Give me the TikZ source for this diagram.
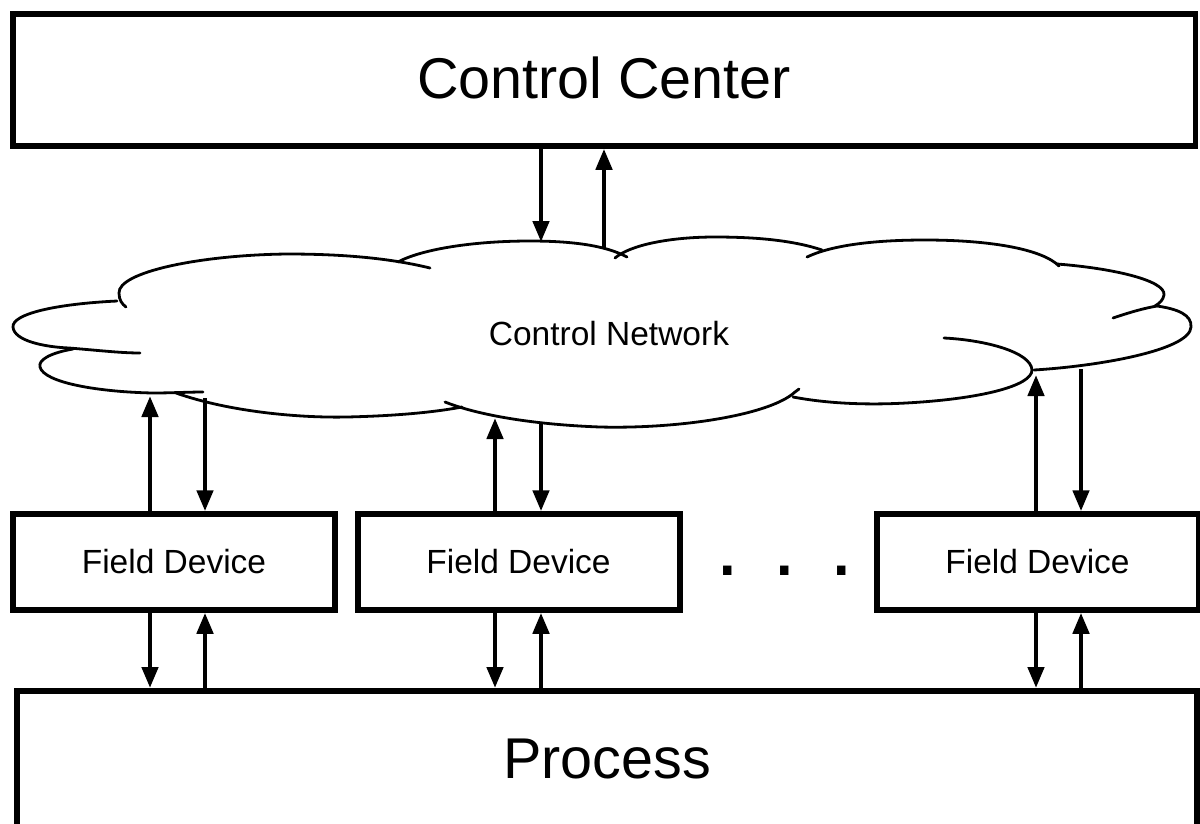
\documentclass[tikz,border=0pt]{standalone}
\usepackage{fontspec}
\setmainfont{Liberation Sans}
\usetikzlibrary{arrows.meta}
\begin{document}
\begin{tikzpicture}[x=1pt,y=-1pt,
  box/.style={draw, line width=6pt, inner sep=0pt, anchor=center},
  ccbox/.style={box, line width=5.5pt, minimum width=1182.5pt, minimum height=132pt,
    text height=41pt, text depth=5pt, font=\fontsize{57.5}{60}\selectfont},
  procbox/.style={box, minimum width=1180pt, minimum height=148pt,
    text height=41pt, text depth=15pt, font=\fontsize{57.5}{60}\selectfont},
  fdbox/.style={box, minimum width=322pt, minimum height=95.5pt,
    font=\fontsize{33.5}{36}\selectfont},
  label/.style={inner sep=0pt, anchor=base},
  arr/.style={line width=4.5pt, -{Triangle[length=21pt,width=16pt]}},
  cloudline/.style={line width=2.8pt, line cap=round}
]
\useasboundingbox (0,0) rectangle (1200,823);
\fill[white] (0,0) rectangle (1200,823);
\clip (0,0) rectangle (1200,823);

% boxes
\node[ccbox] (cc) at (604,80) {Control Center};
\node[fdbox] (fd1) at (174,562) {Field Device};
\node[fdbox] (fd2) at (518.5,562) {Field Device};
\node[fdbox] (fd3) at (1037.5,562) {Field Device};
\node[procbox] (proc) at (607,765) {Process};
\node[label, font=\fontsize{88}{90}\selectfont] (dots) at (785,575) {. . .};

% cloud
\draw[cloudline] (430,268) .. controls (385,257) and (335,254) .. (287,254) .. controls (200,255) and (118,272) .. (119,293) .. controls (119,300) and (122,304) .. (126,307);
\draw[cloudline] (117,301) .. controls (55,304) and (12,314) .. (13,327) .. controls (14,341) and (45,347) .. (69,348) .. controls (95,350) and (120,353) .. (140,353);
\draw[cloudline] (73,349) .. controls (50,353) and (38,360) .. (40,367) .. controls (44,383) and (100,392) .. (153,393) .. controls (170,393) and (190,392) .. (203,392);
\draw[cloudline] (176,393) .. controls (230,412) and (300,418) .. (347,417) .. controls (390,416) and (430,413) .. (462,407);
\draw[cloudline] (445,402) .. controls (470,412) and (520,424) .. (600,427) .. controls (680,429) and (770,415) .. (795,392) -- (799,389);
\draw[cloudline] (793,397) .. controls (830,404) and (870,405) .. (906,403) .. controls (980,399) and (1032,386) .. (1032,370) .. controls (1031,352) and (985,340) .. (944,338);
\draw[cloudline] (1034,370) .. controls (1100,366) and (1190,350) .. (1191,327) .. controls (1192,315) and (1178,309) .. (1157,306) .. controls (1140,309) and (1125,314) .. (1113,318);
\draw[cloudline] (1057,264) .. controls (1110,268) and (1166,280) .. (1164,295) .. controls (1163,300) and (1160,303) .. (1155,306);
\draw[cloudline] (1059,266) .. controls (1042,249) and (990,240) .. (925,240) .. controls (870,240) and (830,246) .. (807,257);
\draw[cloudline] (822,250) .. controls (795,241) and (760,237) .. (715,237) .. controls (670,237) and (630,245) .. (615,258);
\draw[cloudline] (627,257) .. controls (605,245) and (570,241) .. (530,241) .. controls (470,241) and (420,250) .. (398,262);
\node[label, font=\fontsize{33.5}{36}\selectfont] (net) at (609,345) {Control Network};

% points on the cloud outline
\coordinate (n1) at (541,242);
\coordinate (n2) at (604,248);
\coordinate (b1u) at (150,396);
\coordinate (b1d) at (205,398);
\coordinate (b2u) at (495,418);
\coordinate (b2d) at (541,423);
\coordinate (b3u) at (1036,375);
\coordinate (b3d) at (1081,369);

% connectors
\draw[arr] (cc.south -| n1) -- (n1);
\draw[arr] (n2) -- (cc.south -| n2);

\draw[arr] (fd1.north -| b1u) -- (b1u);
\draw[arr] (b1d) -- (fd1.north -| b1d);
\draw[arr] (fd2.north -| b2u) -- (b2u);
\draw[arr] (b2d) -- (fd2.north -| b2d);
\draw[arr] (fd3.north -| b3u) -- (b3u);
\draw[arr] (b3d) -- (fd3.north -| b3d);

\draw[arr] (fd1.south -| b1u) -- (proc.north -| b1u);
\draw[arr] (proc.north -| b1d) -- (fd1.south -| b1d);
\draw[arr] (fd2.south -| b2u) -- (proc.north -| b2u);
\draw[arr] (proc.north -| b2d) -- (fd2.south -| b2d);
\draw[arr] (fd3.south -| b3u) -- (proc.north -| b3u);
\draw[arr] (proc.north -| b3d) -- (fd3.south -| b3d);
\end{tikzpicture}
\end{document}
